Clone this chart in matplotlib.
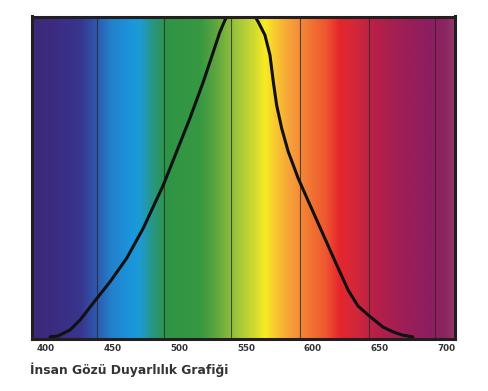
import matplotlib
matplotlib.use("Agg")
import matplotlib.pyplot as plt
import numpy as np
from matplotlib.colors import LinearSegmentedColormap

# ---- data ----
wavelength = [403.0, 409.0, 418.0, 425.5, 435.5, 448.0, 460.5, 472.9, 487.9, 497.9,
              507.9, 517.9, 525.4, 530.4, 534.2, 537.2, 540.5, 546.0, 551.0, 554.5,
              559.1, 564.1, 567.9, 570.4, 572.9, 576.7, 581.6, 589.1, 597.9, 607.9,
              617.9, 626.6, 633.9, 641.4, 652.6, 660.1, 666.9, 675.0]
sensitivity = [0.000, 0.003, 0.022, 0.053, 0.107, 0.173, 0.247, 0.341, 0.476, 0.581,
               0.686, 0.800, 0.894, 0.957, 0.994, 1.020, 1.040, 1.050, 1.040, 1.020,
               0.988, 0.947, 0.884, 0.800, 0.727, 0.654, 0.581, 0.497, 0.414, 0.320,
               0.226, 0.146, 0.097, 0.069, 0.031, 0.016, 0.006, 0.000]
tick_values = [400, 450, 500, 550, 600, 650, 700]
tick_labels = ["400", "450", "500", "550", "600", "650", "700"]
grid_lines = [438.0, 488.5, 539.0, 590.3, 642.0, 691.6]
title = "İnsan Gözü Duyarlılık Grafiği"

# spectrum colour stops (nm, colour)
spec_nm = [389, 410, 425, 437, 448, 463, 470, 478, 489, 515, 527, 542, 557, 564,
           572, 583, 594, 610, 620, 632, 647, 666, 688, 700, 707]
spec_col = ["#3c2a78", "#3b2d85", "#38368e", "#2e58ac", "#2480cc", "#1a96dc", "#1c9cd2",
            "#27968c", "#2e9446", "#379842", "#5ea640", "#9cc43c", "#d6dc30", "#f8ec22",
            "#f8c830", "#f7a03a", "#f28035", "#ee5530", "#e6262c", "#d2283a", "#b62048",
            "#a01e55", "#8c1e60", "#8a2560", "#933a6a"]

xmin, xmax = 389.1, 707.0

fig = plt.figure(figsize=(4.88, 3.91), dpi=100)
ax = fig.add_axes([31.5 / 488, 1 - 338.5 / 391, 424 / 488, 322 / 391])

pos = [(v - spec_nm[0]) / (spec_nm[-1] - spec_nm[0]) for v in spec_nm]
cmap = LinearSegmentedColormap.from_list("spec", list(zip(pos, spec_col)))
grad = np.linspace(0, 1, 600).reshape(1, -1)
ax.imshow(grad, aspect="auto", cmap=cmap, extent=[spec_nm[0], spec_nm[-1], -0.01, 1.01],
          origin="lower", zorder=0, interpolation="bilinear")

for g in grid_lines:
    ax.axvline(g, color="#262626", lw=0.8, alpha=0.75, zorder=1)

ax.plot(wavelength, sensitivity, color="#111111", lw=2.2, zorder=2,
        solid_capstyle="round", solid_joinstyle="round")

ax.set_xlim(xmin, xmax)
ax.set_ylim(-0.005, 1.005)
ax.set_yticks([])
ax.set_xticks(tick_values)
ax.set_xticklabels(tick_labels, fontsize=6.3, fontweight="bold", color="#333333")
ax.tick_params(axis="x", length=0, pad=4)
for s in ax.spines.values():
    s.set_color("#231f20")
    s.set_linewidth(2.2)
    s.set_zorder(3)

fig.text(30 / 488, 1 - 374 / 391, title, fontsize=8.9, fontweight="bold",
         color="#333333", ha="left", va="baseline")

fig.savefig("out.png", dpi=100)
